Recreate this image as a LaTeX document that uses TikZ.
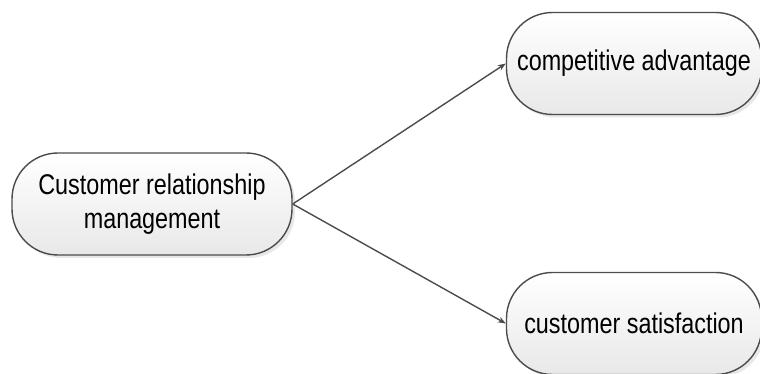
\documentclass[tikz,border=0pt]{standalone}
\usepackage{fontspec}
\setmainfont{Liberation Sans}[FakeStretch=0.82]
\usetikzlibrary{shadows,arrows.meta}

\begin{document}
\begin{tikzpicture}[x=1pt, y=1pt,
    pill/.style={draw=black!70, line width=1.4pt, rounded corners=46pt,
      top color=white, bottom color=black!9, inner sep=0pt, align=center,
      drop shadow={shadow xshift=3pt, shadow yshift=-3pt, fill=black!18},
      minimum height=102pt, font=\fontsize{28.5}{34}\selectfont},
    link/.style={draw=black!70, line width=1.4pt, -{Stealth[length=8pt, width=6pt]}}]
  \useasboundingbox (0,0) rectangle (760,374);
  \node[pill, minimum width=280pt] (crm) at (152,170) {Customer relationship\\management};
  \node[pill, minimum width=255pt] (adv) at (634,310.5) {competitive advantage};
  \node[pill, minimum width=255pt] (sat) at (634,50.5) {customer satisfaction};
  \draw[link] (crm.east) -- (adv.west);
  \draw[link] (crm.east) -- (sat.west);
\end{tikzpicture}
\end{document}
